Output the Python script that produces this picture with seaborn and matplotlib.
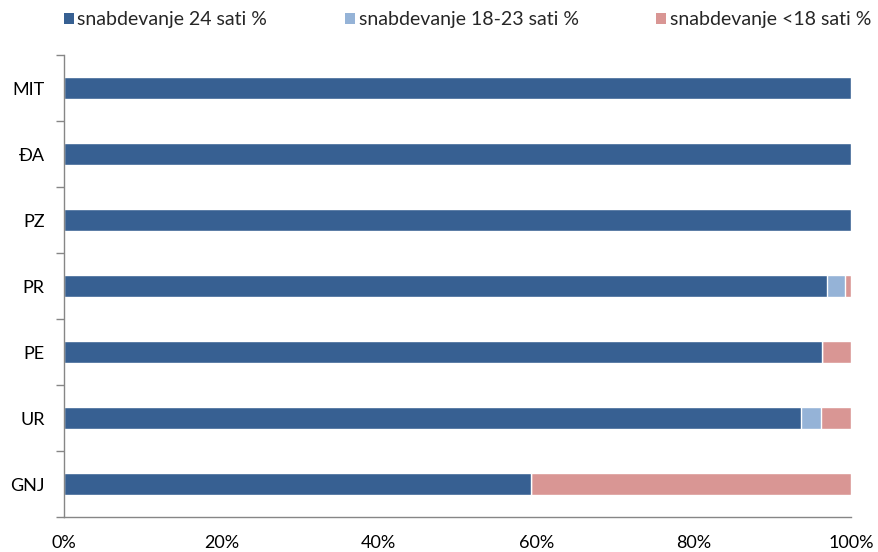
import matplotlib
matplotlib.use("Agg")
import matplotlib.pyplot as plt
import seaborn as sns
import pandas as pd
import numpy as np
from matplotlib.patches import Patch
from matplotlib.ticker import FixedLocator, FuncFormatter

categories = ["MIT", "ĐA", "PZ", "PR", "PE", "UR", "GNJ"]
s24 = [100, 100, 100, 97.0, 96.3, 93.7, 59.3]
s18_23 = [0, 0, 0, 2.3, 0, 2.5, 0]
s_lt18 = [0, 0, 0, 0.7, 3.7, 3.8, 40.7]
series_names = ["snabdevanje 24 sati %", "snabdevanje 18-23 sati %", "snabdevanje <18 sati %"]
x_ticks = [0, 20, 40, 60, 80, 100]

colors = ["#376092", "#95B3D7", "#D99694"]

sns.set_theme(style="white")
plt.rcParams['font.family'] = ['Lato', 'DejaVu Sans']

df = pd.DataFrame({"cat": categories, "a": s24, "b": s18_23, "c": s_lt18})
df["cum_b"] = df["a"] + df["b"]
df["cum_c"] = df["cum_b"] + df["c"]

fig = plt.figure(figsize=(8.79, 5.52), dpi=100)
ax = fig.add_axes([64/879, 1 - 517/552, (851 - 64)/879, (517 - 55)/552])

w = 0.33
sns.barplot(data=df, y="cat", x="cum_c", orient="h", color=colors[2], width=w,
            saturation=1, ax=ax, order=categories)
sns.barplot(data=df, y="cat", x="cum_b", orient="h", color=colors[1], width=w,
            saturation=1, ax=ax, order=categories)
sns.barplot(data=df, y="cat", x="a", orient="h", color=colors[0], width=w,
            saturation=1, ax=ax, order=categories)

ax.set_xlim(0, 100)
ax.set_ylim(len(categories) - 0.5, -0.5)
ax.set_xlabel("")
ax.set_ylabel("")

ax.xaxis.set_major_locator(FixedLocator(x_ticks))
ax.xaxis.set_major_formatter(FuncFormatter(lambda v, p: f"{int(v)}%"))
ax.tick_params(axis="x", length=0, pad=13, labelsize=13, labelcolor="black")

ax.set_yticks(range(len(categories)))
ax.set_yticklabels(categories)
ax.tick_params(axis="y", which="major", length=0, pad=14, labelsize=13, labelcolor="black")
ax.yaxis.set_minor_locator(FixedLocator(np.arange(-0.5, len(categories), 1.0)))
ax.tick_params(axis="y", which="minor", length=6, width=1.0, color="#868686", left=True)

for s in ["top", "right"]:
    ax.spines[s].set_visible(False)
for s in ["left", "bottom"]:
    ax.spines[s].set_color("#868686")
    ax.spines[s].set_linewidth(1.0)
ax.grid(False)

handles = [Patch(facecolor=c, edgecolor="none") for c in colors]
fig.legend(handles, series_names, ncol=3, loc="center",
           bbox_to_anchor=(0.532, 1 - 20/552), frameon=False, fontsize=14,
           handlelength=0.5, handleheight=0.5, handletextpad=0.2,
           columnspacing=4.0, borderaxespad=0, borderpad=0)

fig.savefig("out.png", dpi=100)
